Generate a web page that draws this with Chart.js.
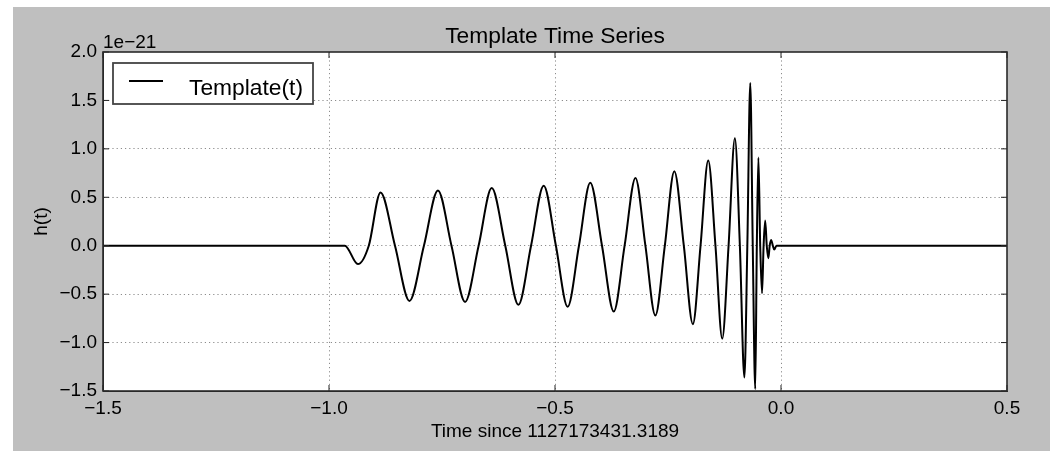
<!DOCTYPE html>
<html>
<head>
<meta charset="utf-8">
<script src="https://cdn.jsdelivr.net/npm/chart.js@4/dist/chart.umd.min.js"></script>
<style>
  html, body { margin: 0; padding: 0; background: #fff; }
  #panel { position: absolute; left: 13px; top: 7px; width: 1037px; height: 444px; background: #bfbfbf; }
  canvas { display: block; }
</style>
</head>
<body>
<div id="panel"><canvas id="chart" width="1037" height="444"></canvas></div>
<script>
// template waveform (peaks, troughs, zero crossings)
// time in seconds, strain in units of 1e-21
const timeValues = [
  -1.5, -0.965, -0.936, -0.912, -0.886, -0.854, -0.822, -0.790, -0.759, -0.729,
  -0.699, -0.669, -0.640, -0.610, -0.581, -0.553, -0.525, -0.498, -0.472, -0.447,
  -0.422, -0.396, -0.370, -0.346, -0.322, -0.300, -0.278, -0.257, -0.236, -0.215,
  -0.195, -0.178, -0.161, -0.145, -0.130, -0.116, -0.102, -0.091, -0.081, -0.0745,
  -0.068, -0.0625, -0.057, -0.0535, -0.050, -0.046, -0.042, -0.0385, -0.035, -0.0315,
  -0.028, -0.025, -0.022, -0.018, -0.015, -0.010, 0.5
];
const strainValues = [
  0, 0, -0.19, 0, 0.55, 0, -0.57, 0, 0.57, 0,
  -0.58, 0, 0.595, 0, -0.61, 0, 0.62, 0, -0.63, 0,
  0.65, 0, -0.68, 0, 0.70, 0, -0.72, 0, 0.77, 0,
  -0.81, 0, 0.88, 0, -0.96, 0, 1.11, 0, -1.36, 0,
  1.68, 0, -1.48, 0, 0.91, 0, -0.49, 0, 0.26, 0,
  -0.13, 0, 0.06, 0, -0.04, 0, 0
];
const xTicks = [-1.5, -1.0, -0.5, 0.0, 0.5];
const yTicks = [-1.5, -1.0, -0.5, 0.0, 0.5, 1.0, 1.5, 2.0];

const FONT = '"Liberation Sans", Arial, Helvetica, sans-serif';
const fmt = v => Number(v).toFixed(1).replace('-', '\u2212');

// white axes background
const bgPlugin = {
  id: 'axesBg',
  beforeDraw(chart) {
    const { ctx, chartArea: a } = chart;
    ctx.save();
    ctx.fillStyle = '#fff';
    ctx.fillRect(a.left, a.top, a.right - a.left, a.bottom - a.top);
    ctx.restore();
  }
};

// frame on all four sides + inward ticks, like matplotlib
const framePlugin = {
  id: 'frame',
  afterDatasetsDraw(chart) {
    const { ctx, chartArea: a, scales } = chart;
    ctx.save();
    ctx.strokeStyle = '#222';
    ctx.lineWidth = 1;
    xTicks.forEach(v => {
      const px = scales.x.getPixelForValue(v);
      ctx.beginPath();
      ctx.moveTo(px, a.bottom); ctx.lineTo(px, a.bottom - 6);
      ctx.moveTo(px, a.top); ctx.lineTo(px, a.top + 6);
      ctx.stroke();
    });
    yTicks.forEach(v => {
      const py = scales.y.getPixelForValue(v);
      ctx.beginPath();
      ctx.moveTo(a.left, py); ctx.lineTo(a.left + 6, py);
      ctx.moveTo(a.right, py); ctx.lineTo(a.right - 6, py);
      ctx.stroke();
    });
    ctx.lineWidth = 1.6;
    ctx.strokeStyle = '#2a2a2a';
    ctx.strokeRect(a.left, a.top, a.right - a.left, a.bottom - a.top);

    // offset text
    ctx.fillStyle = '#000';
    ctx.font = '19px ' + FONT;
    ctx.textBaseline = 'alphabetic';
    ctx.textAlign = 'left';
    ctx.fillText('1e\u221221', a.left, a.top - 4);

    // legend box
    const lx = a.left + 10, ly = a.top + 11;
    ctx.fillStyle = '#fff';
    ctx.fillRect(lx, ly, 200, 41);
    ctx.lineWidth = 1.8;
    ctx.strokeStyle = '#444';
    ctx.strokeRect(lx, ly, 200, 41);
    ctx.lineWidth = 1.8;
    ctx.strokeStyle = '#000';
    ctx.beginPath();
    ctx.moveTo(lx + 16, ly + 18); ctx.lineTo(lx + 50, ly + 18);
    ctx.stroke();
    ctx.fillStyle = '#000';
    ctx.font = '22.8px ' + FONT;
    ctx.fillText(chart.data.datasets[0].label, lx + 76, ly + 32);
    ctx.restore();
  }
};

const gridColor = edge => c =>
  (c.tick && edge.includes(c.tick.value)) ? 'rgba(0,0,0,0)' : '#8c8c8c';

const ctx = document.getElementById('chart').getContext('2d');
new Chart(ctx, {
  type: 'line',
  data: {
    datasets: [{
      label: 'Template(t)',
      data: timeValues.map((t, i) => ({ x: t, y: strainValues[i] })),
      borderColor: '#000',
      borderWidth: 2,
      pointRadius: 0,
      fill: false,
      cubicInterpolationMode: 'monotone'
    }]
  },
  options: {
    responsive: false,
    animation: false,
    devicePixelRatio: 1,
    layout: { padding: { top: 0, right: 43, bottom: 0, left: 0 } },
    plugins: {
      legend: { display: false },
      tooltip: { enabled: false },
      title: {
        display: true,
        fullSize: false,
        text: 'Template Time Series',
        color: '#000',
        font: { family: FONT, size: 22.8, weight: 'normal', lineHeight: 1.2 },
        padding: { top: 16, bottom: 45 - 16 - 27.36 }
      }
    },
    scales: {
      x: {
        type: 'linear',
        min: -1.5, max: 0.5,
        afterFit(s) { s.height = 60; },
        afterBuildTicks(s) { s.ticks = xTicks.map(v => ({ value: v })); },
        grid: {
          drawTicks: false,
          color: gridColor([-1.5, 0.5]),
          lineWidth: 1,
          borderDash: [1.2, 3]
        },
        border: { display: true, color: '#2a2a2a', dash: [1.2, 3] },
        ticks: {
          color: '#000',
          padding: 6,
          maxRotation: 0,
          font: { family: FONT, size: 19 },
          callback: v => fmt(v)
        },
        title: {
          display: true,
          text: 'Time since 1127173431.3189',
          color: '#000',
          font: { family: FONT, size: 19 },
          padding: { top: 0, bottom: 7.6 }
        }
      },
      y: {
        min: -1.5, max: 2.0,
        afterFit(s) { s.width = 90; },
        afterBuildTicks(s) { s.ticks = yTicks.map(v => ({ value: v })); },
        grid: {
          drawTicks: false,
          color: gridColor([-1.5, 2.0]),
          lineWidth: 1,
          borderDash: [1.2, 3]
        },
        border: { display: true, color: '#2a2a2a', dash: [1.2, 3] },
        ticks: {
          color: '#000',
          padding: 6,
          font: { family: FONT, size: 19 },
          callback: v => fmt(v)
        },
        title: {
          display: true,
          text: 'h(t)',
          color: '#000',
          font: { family: FONT, size: 19 },
          padding: { top: 17.3, bottom: 0 }
        }
      }
    }
  },
  plugins: [bgPlugin, framePlugin]
});
</script>
</body>
</html>
